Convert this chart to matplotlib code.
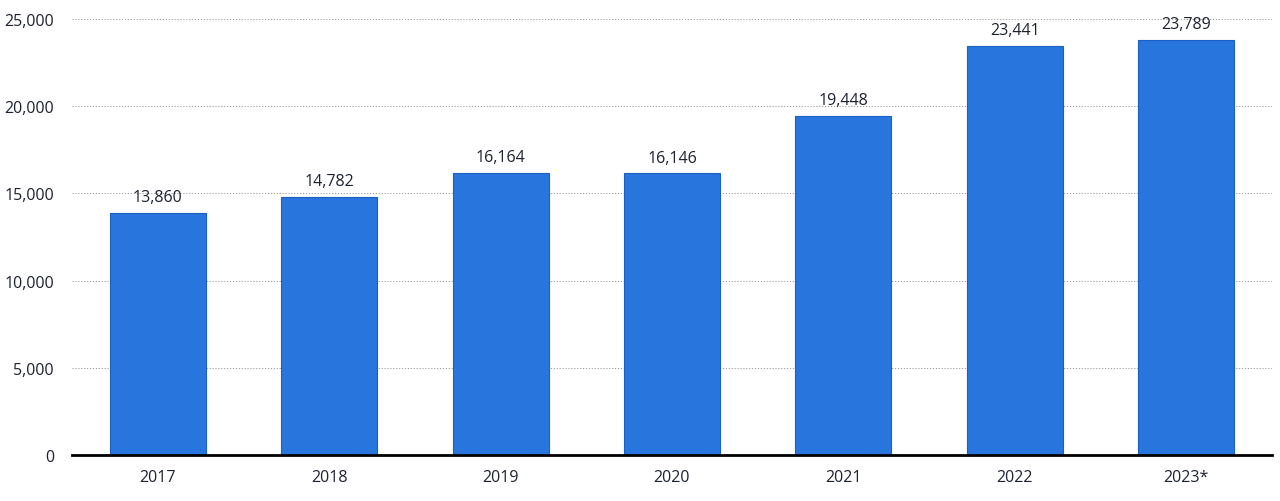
import matplotlib
matplotlib.use("Agg")
import matplotlib.pyplot as plt

years = ["2017", "2018", "2019", "2020", "2021", "2022", "2023*"]
values = [13860, 14782, 16164, 16146, 19448, 23441, 23789]
yticks = [0, 5000, 10000, 15000, 20000, 25000]

BAR = "#2876dd"
EDGE = "#1a5fc8"
TXT = "#1c2230"

plt.rcParams["font.family"] = ["Open Sans", "DejaVu Sans"]

fig = plt.figure(figsize=(12.8, 5.02), dpi=100)
ax = fig.add_axes([0.05625, 0.0916, 0.9375, 0.8685])

x = range(len(years))
ax.bar(x, values, width=0.56, color=BAR, edgecolor=EDGE, linewidth=0.8, zorder=3)
for i, v in zip(x, values):
    ax.text(i, v + 450, f"{v:,}", ha="center", va="bottom", fontsize=11.5, color=TXT, zorder=4)

ax.set_xlim(-0.5, len(years) - 0.5)
ax.set_ylim(0, 25000)
ax.set_yticks(yticks)
ax.set_yticklabels([f"{t:,}" for t in yticks])
ax.set_xticks(list(x))
ax.set_xticklabels(years)
ax.tick_params(axis="both", length=0, labelsize=11.5, colors=TXT)
ax.tick_params(axis="y", pad=13)
ax.tick_params(axis="x", pad=10)
ax.yaxis.grid(True, linestyle=(0, (1.2, 1.8)), color="#999999", linewidth=0.7, zorder=0)
for s in ["top", "right", "left"]:
    ax.spines[s].set_visible(False)
ax.spines["bottom"].set_linewidth(2)
ax.spines["bottom"].set_color("black")
ax.spines["bottom"].set_zorder(5)

fig.savefig("out.png", dpi=100)
